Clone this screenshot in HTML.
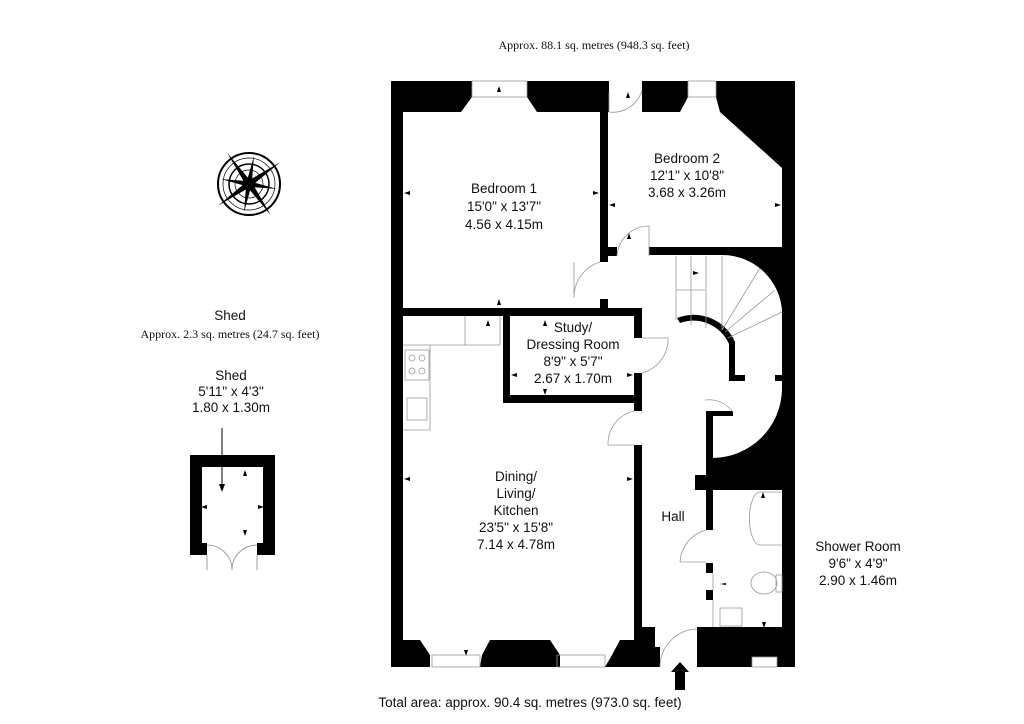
<!DOCTYPE html>
<html><head><meta charset="utf-8"><style>
html,body{margin:0;padding:0;background:#fff;width:1024px;height:724px;overflow:hidden}
svg{display:block}
.s{font-family:"Liberation Sans",sans-serif;font-size:13.5px;fill:#111}
.r{font-family:"Liberation Serif",serif;font-size:12px;fill:#111}
</style></head><body>
<svg width="1024" height="724" viewBox="0 0 1024 724" xmlns="http://www.w3.org/2000/svg">
<text class="r" x="594" y="49" text-anchor="middle">Approx. 88.1 sq. metres (948.3 sq. feet)</text>
<text class="s" x="530" y="707" text-anchor="middle">Total area: approx. 90.4 sq. metres (973.0 sq. feet)</text>

<g transform="translate(249,184)" stroke="#000" fill="none">
<circle r="31" stroke-width="2"/><circle r="26" stroke-width="0.7"/><circle r="20" stroke-width="1.5"/><circle r="14" stroke-width="0.7"/>
<g fill="#000" stroke="none" transform="rotate(-35)">
<polygon points="0,-38 3,-3 -3,-3"/><polygon points="0,38 -3,3 3,3"/>
<polygon points="38,0 3,3 3,-3"/><polygon points="-38,0 -3,-3 -3,3"/>
<polygon points="20,-20 2,2 -2,-2" /><polygon points="-20,20 -2,-2 2,2"/>
<polygon points="20,20 -2,2 2,-2"/><polygon points="-20,-20 2,-2 -2,2"/>
</g>
</g>

<text class="s" x="230" y="320" text-anchor="middle" font-size="14">Shed</text>
<text class="r" x="230" y="338" text-anchor="middle">Approx. 2.3 sq. metres (24.7 sq. feet)</text>
<text class="s" x="231" y="380" text-anchor="middle">Shed</text>
<text class="s" x="231" y="396" text-anchor="middle">5'11" x 4'3"</text>
<text class="s" x="231" y="412" text-anchor="middle">1.80 x 1.30m</text>
<path d="M190 455H275V555H257V543H263V467H202V543H207V555H190Z" fill="#000"/>
<g stroke="#888" fill="none" stroke-width="0.8"><path d="M207 555V570M257 555V570M207 545A25 25 0 0 1 232 570M257 545A25 25 0 0 0 232 570"/></g>
<line x1="222" y1="428" x2="222" y2="486" stroke="#000"/>
<g fill="#000">
<polygon points="219,484 225,484 222,492"/>
<polygon points="243,476 247,476 245,470"/><polygon points="243,530 247,530 245,536"/>
<polygon points="207,505 207,509 201,507"/><polygon points="258,505 258,509 264,507"/>
</g>

<g fill="#000">
<rect x="391" y="81" width="12" height="586"/>
<path d="M391 81H472V97L461 112H403V81Z"/>
<path d="M527 81H609V112H537L527 97Z"/>
<path d="M642 81H688V97L680 112H642Z"/>
<path d="M716 81H795V667H782V168L720 112L716 97Z"/>
<rect x="600" y="112" width="8" height="150"/>
<rect x="600" y="299" width="8" height="12"/>
<rect x="403" y="308" width="239" height="8"/>
<rect x="503" y="308" width="7" height="95"/>
<rect x="503" y="395" width="139" height="8"/>
<rect x="634" y="308" width="8" height="30"/>
<rect x="634" y="373" width="8" height="38"/>
<rect x="634" y="445" width="8" height="200"/>
<rect x="600" y="247" width="17" height="9"/>
<path d="M649 247H782V320A60 60 0 0 0 722 255H649Z"/>
<path d="M391 640H420L430 655V667H391Z"/>
<path d="M482 655L490 640H550L560 655V667H480Z"/>
<path d="M612 655L620 640H642V627H655V647H660V667H605Z"/>
<path d="M697 627H795V667H777V657H752V667H697Z"/>
<path d="M677 318A45 45 0 0 1 735 342V380H729V344A39 39 0 0 0 680 323Z"/>
<rect x="729" y="375" width="16" height="6"/>
<rect x="775" y="375" width="7" height="6"/>
<path d="M706 411H733V416H713V458A70 70 0 0 0 782 390V489H713V530H706Z"/>
<rect x="695" y="475" width="87" height="15"/>
<rect x="706" y="563" width="7" height="10"/>
<rect x="706" y="590" width="7" height="10"/>
</g>
<g fill="#000">
<polygon points="497,92 501,92 499,86"/><polygon points="497,305 501,305 499,299"/>
<polygon points="410,191 410,195 404,193"/><polygon points="593,191 593,195 599,193"/>
<polygon points="626,98 630,98 628,92"/><polygon points="615,203 615,207 609,205"/>
<polygon points="775,203 775,207 781,205"/><polygon points="627,239 631,239 629,233"/>
<polygon points="486,326 490,326 488,320"/><polygon points="543,326 547,326 545,320"/>
<polygon points="543,389 547,389 545,395"/><polygon points="517,373 517,377 511,375"/>
<polygon points="627,373 627,377 633,375"/><polygon points="410,477 410,481 404,479"/>
<polygon points="627,477 627,481 633,479"/><polygon points="464,650 468,650 466,656"/>
<polygon points="693,271 693,275 699,273"/><polygon points="761,498 765,498 763,492"/>
<polygon points="762,622 766,622 764,628"/><polygon points="726,583 726,585 720,584"/>
</g>
<g fill="none" stroke="#999" stroke-width="0.8">
<rect x="472" y="81" width="55" height="16"/><rect x="688" y="81" width="28" height="16"/>
<rect x="432" y="655" width="48" height="12"/><rect x="557" y="655" width="48" height="12"/>
<rect x="752" y="657" width="25" height="10"/>
<path d="M609 92V112M609 112A30 30 0 0 0 642 90"/>
<path d="M617 256A32 32 0 0 1 649 226V256"/>
<path d="M600 262A37 37 0 0 0 574 298V262"/>
<path d="M642 338H668A35 35 0 0 1 642 373"/>
<path d="M634 411A34 34 0 0 0 608 445H634"/>
<path d="M706 530A35 35 0 0 0 680 562H706"/>
<path d="M660 667A38 38 0 0 1 697 629"/>
<path d="M733 412A30 30 0 0 0 705 400"/>
<path d="M676 256V320M691 256V325M706 256V328M722 256V330M676 290H705M722 330L760 268M725 332L775 290M728 338L782 312"/>
<path d="M403 345H465V316M465 345V316M500 345V316M430 345H500M430 345V430H403"/>
<rect x="405" y="350" width="24" height="30"/><circle cx="412" cy="358" r="3"/><circle cx="422" cy="358" r="3"/><circle cx="412" cy="371" r="3"/><circle cx="422" cy="371" r="3"/>
<rect x="407" y="398" width="20" height="22"/>
<path d="M713 573V590M713 600V627"/>
<path d="M782 492H760A10 25 0 0 0 760 545H782"/>
<ellipse cx="764" cy="583" rx="13" ry="11"/><rect x="776" y="575" width="6" height="17"/>
<rect x="720" y="608" width="22" height="18"/>
</g>
<path d="M675 690V672H671L680 662L689 672H685V690Z" fill="#000"/>

<g class="s" text-anchor="middle">
<text x="504" y="193">Bedroom 1</text><text x="504" y="211">15'0" x 13'7"</text><text x="504" y="229">4.56 x 4.15m</text>
<text x="687" y="163">Bedroom 2</text><text x="687" y="180">12'1" x 10'8"</text><text x="687" y="197">3.68 x 3.26m</text>
<text x="573" y="332">Study/</text><text x="573" y="349">Dressing Room</text><text x="573" y="366">8'9" x 5'7"</text><text x="573" y="383">2.67 x 1.70m</text>
<text x="516" y="481">Dining/</text><text x="516" y="498">Living/</text><text x="516" y="515">Kitchen</text><text x="516" y="532">23'5" x 15'8"</text><text x="516" y="549">7.14 x 4.78m</text>
<text x="673" y="521">Hall</text>
<text x="858" y="551">Shower Room</text><text x="858" y="568">9'6" x 4'9"</text><text x="858" y="585">2.90 x 1.46m</text>
</g>
</svg>
</body></html>
